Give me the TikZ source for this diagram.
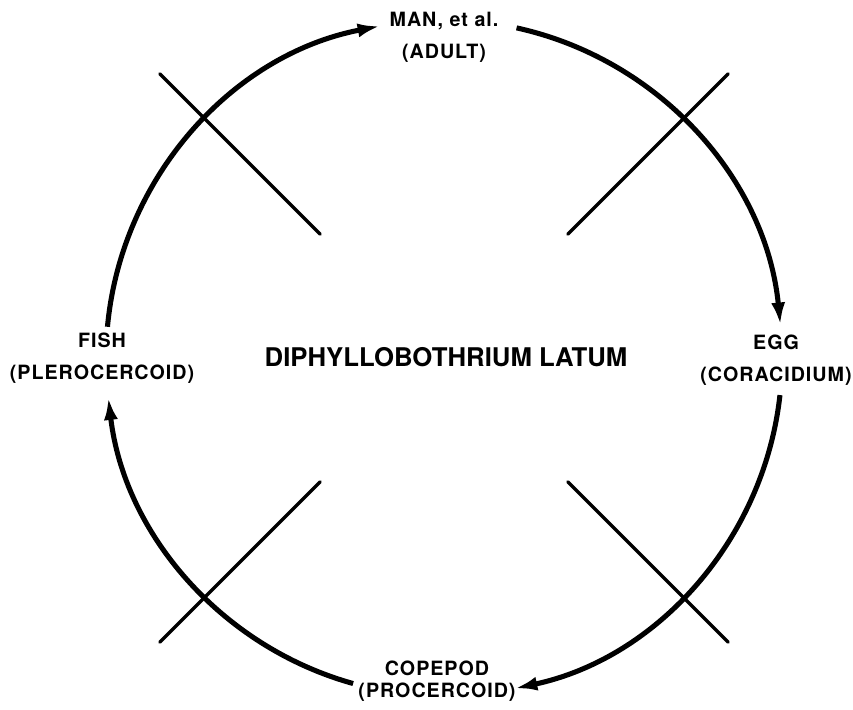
\documentclass[tikz,border=0pt]{standalone}
\usepackage{fontspec}
\setmainfont{TeX Gyre Heros}
\newfontfamily\stagefont[LetterSpace=5.0]{TeX Gyre Heros}
\usepackage{tikz}
\usetikzlibrary{arrows.meta}
\tikzset{
  stage/.style={align=center, inner sep=0pt, font=\stagefont\bfseries\fontsize{14}{22.7}\selectfont},
  species/.style={inner sep=0pt, font=\bfseries\fontsize{18.3}{22}\selectfont},
  cyclearrow/.style={line width=3.6pt, -{Latex[length=16pt,width=10pt]}},
  crossline/.style={line width=2.3pt, line cap=round}
}

\begin{document}
\begin{tikzpicture}[x=0.025cm, y=0.025cm]
  \useasboundingbox (0,0) rectangle (853,709);
  \coordinate (hub) at (444,351);

  \node[species] (name) at (446,352) {DIPHYLLOBOTHRIUM LATUM};
  \node[stage] (man) at (444,671.5) {MAN, et al.\\(ADULT)};
  \node[stage] (egg) at (776,349) {EGG\\(CORACIDIUM)};
  \node[stage, font=\stagefont\bfseries\fontsize{14}{15.5}\selectfont] (copepod) at (437,27.5) {COPEPOD\\(PROCERCOID)};
  \node[stage] (fish) at (102,351) {FISH\\(PLEROCERCOID)};

  \foreach \a in {45,135,225,315} {
    \draw[crossline] ([shift={(\a:175)}]hub) -- ([shift={(\a:402)}]hub);
  }

  \draw[cyclearrow] ([shift={(174.7:338)}]hub) arc[start angle=174.7, end angle=100.9, radius=338];
  \draw[cyclearrow] ([shift={(77.6:338)}]hub) arc[start angle=77.6, end angle=5.6, radius=338];
  \draw[cyclearrow] ([shift={(-6.3:338)}]hub) arc[start angle=-6.3, end angle=-77.9, radius=338];
  \draw[cyclearrow] ([shift={(254.4:338)}]hub) arc[start angle=254.4, end angle=186.7, radius=338];
\end{tikzpicture}
\end{document}
